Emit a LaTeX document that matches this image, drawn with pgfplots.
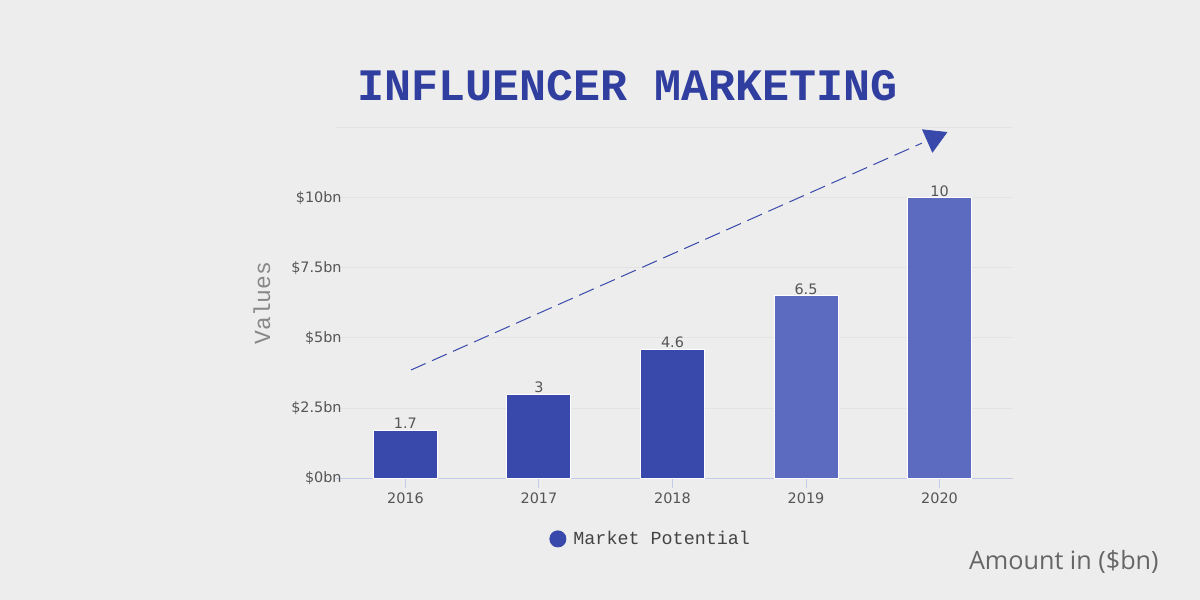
\documentclass[border=0pt]{standalone}
\usepackage{pgfplots}
\pgfplotsset{compat=1.18}
\usepackage{fontspec}
\setmainfont{DejaVu Sans}
\newfontfamily\monofont{Liberation Mono}
\newfontfamily\opensans{Open Sans}
\definecolor{bg}{HTML}{EDEDED}
\definecolor{barA}{HTML}{3949AB}
\definecolor{barB}{HTML}{5C6BC0}
\definecolor{titlec}{HTML}{303F9F}
\definecolor{axisc}{HTML}{C5CAE9}
\definecolor{gridc}{HTML}{E3E3E3}
\definecolor{tickc}{HTML}{555555}
\definecolor{labc}{HTML}{888888}
\definecolor{amtc}{HTML}{666666}
\definecolor{legc}{HTML}{444444}
\begin{document}
\begin{tikzpicture}
\fill[bg] (-168pt,-61pt) rectangle (432pt,239pt);
\begin{axis}[
  at={(0pt,0pt)}, anchor=south west,
  scale only axis, width=338.5pt, height=175pt,
  xmin=-0.52, xmax=4.55, ymin=0, ymax=12.5,
  clip=false,
  axis x line*=bottom, axis y line*=left,
  x axis line style={axisc, line width=0.5pt},
  y axis line style={draw=none},
  ytick={0,2.5,5,7.5,10,12.5},
  yticklabels={\$0bn,\$2.5bn,\$5bn,\$7.5bn,\$10bn,{}},
  ytick style={draw=none},
  xtick={0,1,2,3,4},
  xticklabels={2016,2017,2018,2019,2020},
  xtick style={axisc, line width=0.5pt},
  tick align=outside,
  major tick length=5pt,
  ymajorgrids,
  major grid style={gridc, line width=0.5pt},
  /pgf/number format/assume math mode=true,
  tick label style={font=\fontsize{7.2}{8.5}\selectfont, text=tickc},
  yticklabel style={anchor=east, inner sep=0pt, xshift=8pt},
  xticklabel style={anchor=north, inner sep=0pt, yshift=-2pt},
  legend style={draw=none, fill=none, at={(0.3146,-0.174)}, anchor=west,
    font=\monofont\fontsize{9.2}{11}\selectfont, text=legc, inner sep=0pt},
]
\addplot[ybar, bar width=32pt, bar shift=0pt, fill=barA, draw=white, line width=0.5pt,
  nodes near coords, nodes near coords style={font=\fontsize{7.2}{8.5}\selectfont, text=tickc, anchor=south, inner sep=0.5pt},
  legend image code/.code={\path (0pt,0pt) -- (9.5pt,0pt); \fill[barA] (4pt,0pt) circle (4pt);}]
  coordinates {(0,1.7) (1,3) (2,4.6)};
\addlegendentry{Market Potential}
\addplot[ybar, bar width=32pt, bar shift=0pt, fill=barB, draw=white, line width=0.5pt, forget plot,
  nodes near coords, nodes near coords style={font=\fontsize{7.2}{8.5}\selectfont, text=tickc, anchor=south, inner sep=0.5pt}]
  coordinates {(3,6.5) (4,10)};
\addplot[sharp plot, barA, line width=0.5pt, dash pattern=on 8pt off 3.5pt, forget plot]
  coordinates {(0.0416,3.857) (3.868,11.96)};
\addplot[only marks, mark=triangle*, mark size=7pt, mark options={fill=barA, draw=barA, rotate=174}, forget plot]
  coordinates {(3.958,12.14)};
\end{axis}
\node[font=\monofont\bfseries\fontsize{22.5}{26}\selectfont, text=titlec] at (146pt,196pt) {INFLUENCER MARKETING};
\node[rotate=90, font=\monofont\fontsize{11.5}{13}\selectfont, text=labc] at (-37pt,87.5pt) {Values};
\node[anchor=east, inner sep=0pt, font=\opensans\fontsize{12.6}{15}\selectfont, text=amtc] at (411.5pt,-42pt) {Amount in (\$bn)};
\pgfresetboundingbox
\useasboundingbox (-168pt,-61pt) rectangle (432pt,239pt);
\end{tikzpicture}
\end{document}
